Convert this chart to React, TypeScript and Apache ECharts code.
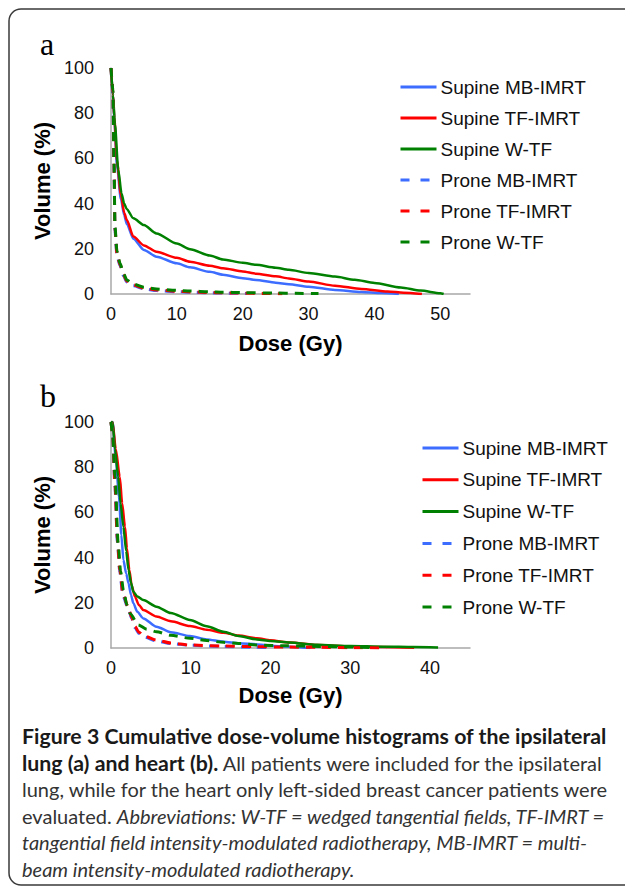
import React, { useEffect, useRef } from "react";
import * as echarts from "echarts";

const seriesNames = [
  "Supine MB-IMRT",
  "Supine TF-IMRT",
  "Supine W-TF",
  "Prone MB-IMRT",
  "Prone TF-IMRT",
  "Prone W-TF",
];
const seriesColors = ["#3d6dff", "#ff0000", "#008000", "#3d6dff", "#ff0000", "#008000"];

const xTicksLung = [0, 10, 20, 30, 40, 50];
const xTicksHeart = [0, 10, 20, 30, 40];
const yTicks = [0, 20, 40, 60, 80, 100];

// (a) ipsilateral lung
const lungDoseSupMB = [0, 0.3, 0.5, 0.9, 1.5, 2.0, 2.4, 3.4, 5, 6.9, 10, 12, 15, 17, 20, 22, 25, 27, 30, 34, 38, 41, 43.7];
const lungVolSupMB = [100, 88, 77, 57, 42, 35, 31, 24.5, 19.5, 16.5, 13.6, 11.8, 9.8, 8.5, 7, 6.2, 5, 4.3, 3.2, 1.8, 0.9, 0.4, 0];
const lungDoseSupTF = [0, 0.3, 0.5, 0.9, 1.5, 2.0, 2.4, 3.4, 5, 6.9, 10, 12, 15, 17, 20, 22, 25, 27, 30, 34, 38, 42, 44.4, 47.2];
const lungVolSupTF = [100, 88, 78, 59, 44, 36, 32.7, 25.4, 21.5, 18.7, 16, 14.3, 12.5, 11.4, 10, 9, 7.8, 6.9, 5.5, 3.7, 2.2, 1.1, 0.6, 0];
const lungDoseSupW = [0, 0.3, 0.6, 1.1, 1.6, 2.0, 2.4, 3.4, 5, 6.9, 10, 12, 15, 17, 20, 22, 25, 27, 30, 34, 37, 40, 44, 47, 50, 50.5];
const lungVolSupW = [100, 88, 75, 55, 44.5, 40, 37.5, 33.5, 30.5, 26.8, 22.3, 19.8, 17, 15.3, 13.8, 12.9, 11.6, 10.7, 9.3, 7.7, 6.3, 4.9, 2.9, 1.5, 0.3, 0];
const lungDoseProMB = [0, 0.3, 0.45, 0.6, 0.9, 1.37, 1.9, 2.4, 3.4, 5, 6.9, 10, 12, 15, 17, 20.6];
const lungVolProMB = [100, 88, 57, 28, 17, 12.5, 8, 5.3, 3.6, 2.3, 1.5, 1.0, 0.8, 0.5, 0.4, 0.2];
const lungDoseProTF = [0, 0.3, 0.45, 0.6, 0.9, 1.37, 1.9, 2.4, 3.4, 5, 6.9, 10, 12, 15, 17, 20, 23, 26];
const lungVolProTF = [100, 89, 58, 29, 18, 13, 8.5, 5.7, 4.0, 2.6, 1.8, 1.2, 0.9, 0.7, 0.5, 0.4, 0.2, 0.1];
const lungDoseProW = [0, 0.3, 0.45, 0.6, 0.9, 1.37, 1.9, 2.4, 3.4, 5, 6.9, 10, 12, 15, 17, 20, 25, 28, 31.5];
const lungVolProW = [100, 90, 60, 30, 19, 13.6, 9.1, 6.2, 4.4, 3, 2.2, 1.6, 1.3, 1.0, 0.8, 0.6, 0.4, 0.3, 0.2];

// (b) heart
const heartDoseSupMB = [0, 0.2, 0.6, 1.0, 1.3, 1.55, 1.9, 2.2, 2.5, 2.8, 3.3, 4.05, 5.7, 7.5, 9.9, 12, 14.1, 16, 18.3, 21, 25];
const heartVolSupMB = [100, 100, 84, 67, 50, 39, 33, 28.6, 23.5, 19.8, 16, 13.1, 9.4, 7, 5.3, 3.8, 2.8, 2.1, 1.6, 0.8, 0];
const heartDoseSupTF = [0, 0.2, 0.6, 1.1, 1.4, 1.75, 2.0, 2.3, 2.6, 3.0, 3.5, 4.05, 5.7, 7.5, 9.9, 12, 14.1, 16, 18.3, 20, 22.4, 26, 30, 34, 38];
const heartVolSupTF = [100, 100, 88, 75.8, 64, 53.7, 44, 34.5, 27.5, 22.7, 19, 16.8, 13.9, 11.8, 9.7, 8.1, 6.8, 5.5, 4.3, 3.4, 2.4, 1.3, 0.8, 0.4, 0.1];
const heartDoseSupW = [0, 0.2, 0.5, 0.9, 1.2, 1.55, 1.9, 2.2, 2.5, 2.8, 3.3, 4.05, 5.7, 7.5, 9.9, 12, 14.1, 16, 18.3, 20, 22.4, 25.8, 30, 34.1, 38, 41];
const heartVolSupW = [100, 100, 88, 75.8, 64, 53.7, 43, 34.5, 29, 24.9, 22.8, 21.2, 18.3, 15.5, 12.4, 9.6, 7.2, 5.3, 3.8, 3.1, 2.4, 1.4, 0.9, 0.6, 0.4, 0.2];
const heartDoseProMB = [0, 0.2, 0.5, 0.8, 1.1, 1.5, 2.2, 2.6, 3.0, 3.5, 4.2, 5.7, 7.5, 9.9, 14.1, 18, 20];
const heartVolProMB = [100, 95, 71, 47, 33.5, 23, 17, 13, 9, 6.5, 4.8, 3.1, 2.0, 1.2, 0.7, 0.3, 0.1];
const heartDoseProTF = [0, 0.2, 0.5, 0.8, 1.1, 1.5, 2.2, 2.6, 3.0, 3.5, 4.2, 5.7, 7.5, 9.9, 14.1, 18, 22, 26, 30, 34.5];
const heartVolProTF = [100, 95, 72, 48, 34.5, 24, 17.5, 13.5, 9.5, 7, 5.2, 3.5, 2.2, 1.3, 0.9, 0.6, 0.4, 0.3, 0.15, 0];
const heartDoseProW = [0, 0.2, 0.5, 0.9, 1.2, 1.55, 2.0, 2.4, 3.4, 4.5, 5.7, 7.5, 9.9, 12, 14.1, 16, 18.3, 22, 26, 30, 33];
const heartVolProW = [100, 95, 75.8, 46.3, 34, 25.7, 19, 15.3, 10.2, 8.3, 7.2, 5.6, 4.3, 3.3, 2.5, 2.0, 1.3, 1.0, 0.7, 0.4, 0.2];

const lungDoses = [lungDoseSupMB, lungDoseSupTF, lungDoseSupW, lungDoseProMB, lungDoseProTF, lungDoseProW];
const lungVols = [lungVolSupMB, lungVolSupTF, lungVolSupW, lungVolProMB, lungVolProTF, lungVolProW];
const heartDoses = [heartDoseSupMB, heartDoseSupTF, heartDoseSupW, heartDoseProMB, heartDoseProTF, heartDoseProW];
const heartVols = [heartVolSupMB, heartVolSupTF, heartVolSupW, heartVolProMB, heartVolProTF, heartVolProW];

const xAxisTitle = "Dose (Gy)";
const yAxisTitle = "Volume (%)";

const captionLines = [
  "{b|Figure 3 Cumulative dose-volume histograms of the ipsilateral}",
  "{b|lung (a) and heart (b).}{n| All patients were included for the ipsilateral}",
  "{n|lung, while for the heart only left-sided breast cancer patients were}",
  "{n|evaluated. }{i|Abbreviations: W-TF = wedged tangential fields, TF-IMRT =}",
  "{i|tangential field intensity-modulated radiotherapy, MB-IMRT = multi-}",
  "{i|beam intensity-modulated radiotherapy.}",
];

const SANS = "'Liberation Sans', Arial, Helvetica, sans-serif";
const CAP = "Lato, 'Open Sans', sans-serif";

function zip(a: number[], b: number[]) {
  return a.map((d, i) => [d, b[i]]);
}

function buildSeries(doses: number[][], vols: number[][], idx: number) {
  return seriesNames.map((name, i) => ({
    name,
    type: "line",
    xAxisIndex: idx,
    yAxisIndex: idx,
    data: zip(doses[i], vols[i]),
    showSymbol: false,
    symbol: "none",
    smooth: 0.25,
    smoothMonotone: "x",
    z: i >= 3 ? 3 : 2,
    lineStyle: {
      color: seriesColors[i],
      width: i >= 3 ? 3 : 2.5,
      type: i >= 3 ? [9, 7] : "solid",
    },
    itemStyle: { color: seriesColors[i] },
  }));
}

function xAxis(idx: number, max: number, ticks: number[], gap: number) {
  return {
    gridIndex: idx,
    type: "value",
    min: 0,
    max,
    interval: 10,
    axisLine: { show: true, lineStyle: { color: "#a8a8a8", width: 1.5 } },
    axisTick: { show: false },
    splitLine: { show: false },
    axisLabel: {
      fontFamily: SANS,
      fontSize: 18,
      color: "#111",
      margin: 11,
      formatter: (v: number) => (ticks.indexOf(v) >= 0 ? String(v) : ""),
    },
    name: xAxisTitle,
    nameLocation: "middle",
    nameGap: gap,
    nameTextStyle: { fontFamily: SANS, fontSize: 22, fontWeight: "bold", color: "#000" },
  };
}

function yAxis(idx: number) {
  return {
    gridIndex: idx,
    type: "value",
    min: 0,
    max: 100,
    interval: 20,
    axisLine: { show: true, lineStyle: { color: "#a8a8a8", width: 1.5 } },
    axisTick: { show: false },
    splitLine: { show: false },
    axisLabel: {
      fontFamily: SANS,
      fontSize: 18,
      color: "#111",
      margin: 17,
      formatter: (v: number) => (yTicks.indexOf(v) >= 0 ? String(v) : ""),
    },
    name: yAxisTitle,
    nameLocation: "middle",
    nameGap: 52,
    nameRotate: 90,
    nameTextStyle: { fontFamily: SANS, fontSize: 22, fontWeight: "bold", color: "#000" },
  };
}

function legend(left: number, top: number, gap: number) {
  return {
    orient: "vertical",
    left,
    top,
    padding: 0,
    itemGap: gap,
    itemWidth: 36,
    itemHeight: 14,
    selectedMode: false,
    itemStyle: { opacity: 0, borderWidth: 0 },
    textStyle: { fontFamily: SANS, fontSize: 19, color: "#111", padding: [0, 0, 0, -1] },
    data: seriesNames.map((name, i) => ({
      name,
      itemStyle: { opacity: 0, borderWidth: 0 },
      lineStyle: i >= 3 ? { type: [9, 11], width: 3 } : { width: 3 },
    })),
  };
}

export default function App() {
  const ref = useRef<HTMLDivElement>(null);
  useEffect(() => {
    if (!ref.current) return;
    const chart = echarts.init(ref.current, null, { renderer: "svg" });
    const option: any = {
      animation: false,
      backgroundColor: "#fff",
      grid: [
        { left: 111, top: 68, width: 359, height: 226 },
        { left: 111, top: 422, width: 359, height: 226 },
      ],
      xAxis: [xAxis(0, 54.5, xTicksLung, 38), xAxis(1, 45, xTicksHeart, 36)],
      yAxis: [yAxis(0), yAxis(1)],
      legend: [legend(399, 77.5, 12), legend(421, 438.5, 12.8)],
      series: [...buildSeries(lungDoses, lungVols, 0), ...buildSeries(heartDoses, heartVols, 1)],
      graphic: [
        {
          type: "rect",
          silent: true,
          shape: { x: 9, y: 9, width: 660, height: 876, r: 12 },
          style: { fill: "none", stroke: "#3a3a3a", lineWidth: 1.5 },
        },
        {
          type: "text",
          x: 40,
          y: 44,
          style: { text: "a", font: "32px 'Liberation Serif', 'Times New Roman', serif", fill: "#000", textVerticalAlign: "middle" },
        },
        {
          type: "text",
          x: 40,
          y: 396,
          style: { text: "b", font: "32px 'Liberation Serif', 'Times New Roman', serif", fill: "#000", textVerticalAlign: "middle" },
        },
        ...captionLines.map((t, i) => ({
          type: "text",
          x: 22,
          y: 736 + i * 26.5,
          style: {
            text: t,
            textVerticalAlign: "middle",
            rich: {
              b: { fontFamily: CAP, fontSize: 21.3, fontWeight: "bold", fill: "#1a1a1a", color: "#1a1a1a" },
              n: { fontFamily: CAP, fontSize: 20, fill: "#333", color: "#333" },
              i: { fontFamily: CAP, fontSize: 20, fontStyle: "italic", fill: "#333", color: "#333" },
            },
          },
        })),
      ],
    };
    chart.setOption(option);
    return () => chart.dispose();
  }, []);
  return (
    <div
      ref={ref}
      style={{ position: "fixed", left: 0, top: 0, width: 625, height: 888, background: "#fff" }}
    />
  );
}
